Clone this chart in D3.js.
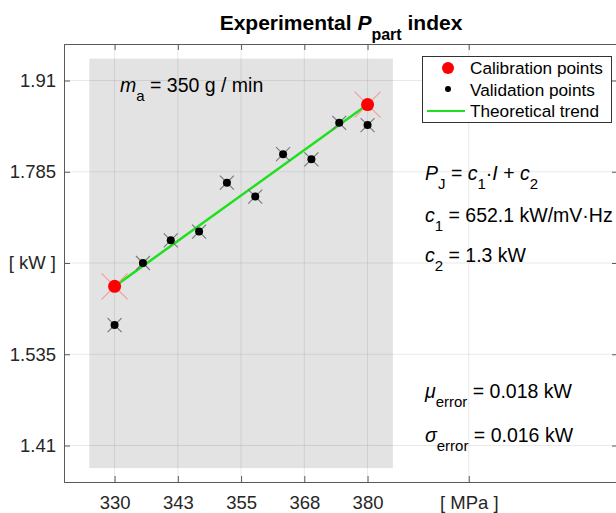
<!DOCTYPE html>
<html>
<head>
<meta charset="utf-8">
<script src="https://cdn.jsdelivr.net/npm/d3@7"></script>
<style>
  body { margin: 0; background: #fff; }
  svg { display: block; font-family: "Liberation Sans", Arial, Helvetica, sans-serif; }
</style>
</head>
<body>
<svg id="chart" width="616" height="513"></svg>
<script>
// data
const calibX = [330, 380];
const calibY = [1.628, 1.877];
const validX = [330, 335.6, 341.1, 346.7, 352.2, 357.8, 363.3, 368.9, 374.4, 380];
const validY = [1.575, 1.660, 1.691, 1.703, 1.770, 1.751, 1.809, 1.802, 1.852, 1.849];
const trendX = [330, 380];
const trendY = [1.628, 1.877];
const xTicks = [330, 342.5, 355, 367.5, 380, 400];
const xTickLabels = ["330", "343", "355", "368", "380", "[ MPa ]"];
const yTicks = [1.41, 1.535, 1.66, 1.785, 1.91];
const yTickLabels = ["1.41", "1.535", "[ kW ]", "1.785", "1.91"];
const shadeX = [325, 385];
const shadeY = [1.379, 1.94];

const svg = d3.select("#chart");

// plot box
const box = { left: 64, right: 618, top: 44, bottom: 482 };

const x = d3.scaleLinear().domain([320, 429.5]).range([box.left, box.right]);
const y = d3.scaleLinear().domain([1.36, 1.96]).range([box.bottom, box.top]);

// shaded area
svg.append("rect")
  .attr("x", x(shadeX[0]))
  .attr("y", y(shadeY[1]))
  .attr("width", x(shadeX[1]) - x(shadeX[0]))
  .attr("height", y(shadeY[0]) - y(shadeY[1]))
  .attr("fill", "#e3e3e3");

// grid
const grid = svg.append("g").attr("stroke", "#262626").attr("stroke-opacity", 0.1).attr("stroke-width", 1);
xTicks.forEach(t => {
  grid.append("line").attr("x1", x(t)).attr("x2", x(t)).attr("y1", box.top).attr("y2", box.bottom);
});
yTicks.forEach(t => {
  grid.append("line").attr("x1", box.left).attr("x2", box.right).attr("y1", y(t)).attr("y2", y(t));
});

// axes (ticks inward, box on)
const tickLen = 6;
const xAxisB = d3.axisBottom(x).tickValues(xTicks).tickSize(-tickLen).tickPadding(10)
  .tickFormat((d, i) => xTickLabels[i]);
const xAxisT = d3.axisTop(x).tickValues(xTicks).tickSize(-tickLen).tickFormat("");
const yAxisL = d3.axisLeft(y).tickValues(yTicks).tickSize(-tickLen).tickPadding(8)
  .tickFormat((d, i) => yTickLabels[i]);
const yAxisR = d3.axisRight(y).tickValues(yTicks).tickSize(-tickLen).tickFormat("");

const gB = svg.append("g").attr("transform", `translate(0,${box.bottom})`).call(xAxisB);
const gT = svg.append("g").attr("transform", `translate(0,${box.top})`).call(xAxisT);
const gL = svg.append("g").attr("transform", `translate(${box.left},0)`).call(yAxisL);
const gR = svg.append("g").attr("transform", `translate(${box.right},0)`).call(yAxisR);

[gB, gT, gL, gR].forEach(g => {
  g.select(".domain").attr("stroke", "#5a5a5a").attr("stroke-width", 1);
  g.selectAll(".tick line").attr("stroke", "#5a5a5a");
  g.selectAll(".tick text").attr("fill", "#262626").style("font-size", "18.5px")
    .style("font-family", "'Liberation Sans', Arial, sans-serif");
});
gB.selectAll(".tick text").attr("dy", "0.9em");
gL.selectAll(".tick text").attr("x", -8);

// trend line
const line = d3.line().x(d => x(d[0])).y(d => y(d[1]));
svg.append("path")
  .datum(trendX.map((v, i) => [v, trendY[i]]))
  .attr("d", line)
  .attr("fill", "none")
  .attr("stroke", "#1ee01e")
  .attr("stroke-width", 2.5);

// marker with cross arms
function marker(g, cx, cy, r, arm, fill, armColor) {
  g.append("line").attr("x1", cx - arm).attr("y1", cy - arm).attr("x2", cx + arm).attr("y2", cy + arm)
    .attr("stroke", armColor).attr("stroke-width", 1.1);
  g.append("line").attr("x1", cx - arm).attr("y1", cy + arm).attr("x2", cx + arm).attr("y2", cy - arm)
    .attr("stroke", armColor).attr("stroke-width", 1.1);
  g.append("circle").attr("cx", cx).attr("cy", cy).attr("r", r).attr("fill", fill);
}

const pts = svg.append("g");
validX.forEach((v, i) => marker(pts, x(v), y(validY[i]), 4, 7, "#000", "#777"));
calibX.forEach((v, i) => marker(pts, x(v), y(calibY[i]), 6.5, 13, "#ff0000", "#f29a9a"));

// legend
const lg = svg.append("g");
lg.append("rect").attr("x", 422.5).attr("y", 56.5).attr("width", 189).attr("height", 66)
  .attr("fill", "#fff").attr("stroke", "#333").attr("stroke-width", 1);
lg.append("circle").attr("cx", 448).attr("cy", 68).attr("r", 6).attr("fill", "#ff0000");
lg.append("circle").attr("cx", 448).attr("cy", 89).attr("r", 3).attr("fill", "#000");
lg.append("line").attr("x1", 427).attr("x2", 465).attr("y1", 111).attr("y2", 111)
  .attr("stroke", "#1ee01e").attr("stroke-width", 2);
const legendLabels = ["Calibration points", "Validation points", "Theoretical trend"];
legendLabels.forEach((t, i) => {
  lg.append("text").attr("x", 470).attr("y", 74 + i * 21.5).attr("font-size", 17.2).attr("fill", "#000").text(t);
});

// title
const title = svg.append("text").attr("x", 341).attr("y", 30).attr("text-anchor", "middle")
  .attr("font-size", 21).attr("font-weight", "bold").attr("fill", "#000");
title.append("tspan").text("Experimental ");
title.append("tspan").attr("font-style", "italic").text("P");
title.append("tspan").attr("font-size", 16).attr("dy", 10).text("part");
title.append("tspan").attr("dy", -10).text(" index");

// annotations: parts = [text, style] where style: "i" italic, "s" subscript, "n" normal
function tex(xp, yp, parts) {
  const t = svg.append("text").attr("x", xp).attr("y", yp).attr("font-size", 19.5).attr("fill", "#000");
  let down = 0;
  parts.forEach(([s, k]) => {
    const sp = t.append("tspan").text(s);
    const want = k === "s" ? 9 : 0;
    if (want !== down) { sp.attr("dy", want - down); down = want; }
    if (k === "s") sp.attr("font-size", 15);
    if (k === "i") sp.attr("font-style", "italic");
  });
}

tex(120, 92, [["m", "i"], ["a", "s"], [" = 350 g / min", "n"]]);
tex(425, 180, [["P", "i"], ["J", "s"], [" = ", "n"], ["c", "i"], ["1", "s"], ["\u00b7", "n"], ["I", "i"], [" + ", "n"], ["c", "i"], ["2", "s"]]);
tex(425, 222, [["c", "i"], ["1", "s"], [" = 652.1 kW/mV\u00b7Hz", "n"]]);
tex(425, 262, [["c", "i"], ["2", "s"], [" = 1.3 kW", "n"]]);
tex(425, 398, [["\u03bc", "i"], ["error", "s"], [" = 0.018 kW", "n"]]);
tex(425, 442, [["\u03c3", "i"], ["error", "s"], [" = 0.016 kW", "n"]]);
</script>
</body>
</html>
